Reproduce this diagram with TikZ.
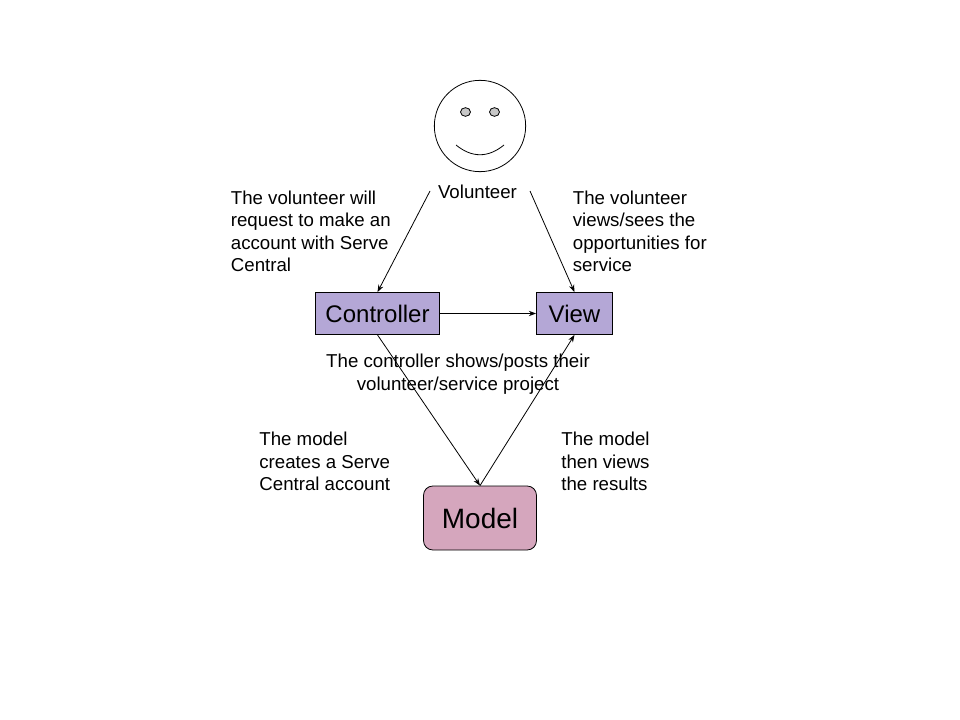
\documentclass[tikz,border=0pt]{standalone}
\usepackage{fontspec}
\setmainfont{Liberation Sans}
\usetikzlibrary{arrows.meta}
\usetikzlibrary{shapes.geometric}
\definecolor{boxpurple}{HTML}{B4A7D6}
\definecolor{boxpink}{HTML}{D5A6BD}
\begin{document}
\begin{tikzpicture}[x=.75pt,y=-.75pt,line width=.6pt,
  box/.style={draw,minimum height=31.5pt,inner sep=0pt,font=\fontsize{18}{22}\selectfont},
  eye/.style={draw,ellipse,fill=black!22,inner sep=0pt,minimum width=7.5pt,minimum height=6.5pt},
  note/.style={inner sep=0pt,font=\fontsize{14}{16.75}\selectfont,anchor=north west,align=left},
  arr/.style={-{Stealth[length=5.5pt,width=4pt]}}]
\useasboundingbox (0,0) rectangle (960,720);
\node [draw,circle,inner sep=0pt,minimum size=68.5pt] (face) at (480,126) {};
\node [eye] (eyeL) at (465.5,112) {};
\node [eye] (eyeR) at (494.5,112) {};
\coordinate (smileL) at (456,145);
\coordinate (smileR) at (504,145);
\draw (smileL) .. controls (472,158) and (488,158) .. (smileR);
\node [note,anchor=base] (volunteer) at (477.5,198.5) {Volunteer};
\node [box,fill=boxpurple,minimum width=93pt] (controller) at (377.5,313.5) {Controller};
\node [box,fill=boxpurple,minimum width=57pt] (view) at (574.5,313.5) {View};
\node [box,fill=boxpink,rounded corners=7pt,minimum width=84.75pt,minimum height=48pt,font=\fontsize{21}{25}\selectfont] (model) at (480,518) {Model};
\coordinate (reqL) at (430,191);
\coordinate (reqR) at (530,191);
\draw [arr] (reqL) -- (controller.north);
\draw [arr] (reqR) -- (view.north);
\draw [arr] (controller) -- (view);
\draw [arr] (controller.south) -- (model.north);
\draw [arr] (model.north) -- (view.south);
\node [note] (noteRequest) at (230.5,190.5) {The volunteer will\\request to make an\\account with Serve\\Central};
\node [note] (noteSees) at (572.5,190.5) {The volunteer\\views/sees the\\opportunities for\\service};
\node [note,align=center,anchor=north] (notePosts) at (458,354) {The controller shows/posts their\\volunteer/service project};
\node [note] (noteCreates) at (259,432) {The model\\creates a Serve\\Central account};
\node [note] (noteResults) at (561,432) {The model\\then views\\the results};
\end{tikzpicture}
\end{document}
